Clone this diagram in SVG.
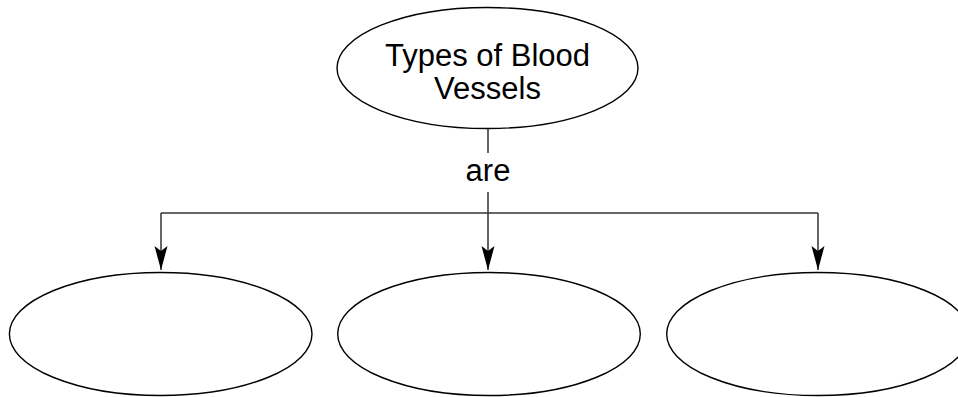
<svg xmlns="http://www.w3.org/2000/svg" width="958" height="397" viewBox="0 0 958 397">
<style>
.node{fill:#fff;stroke:#000;stroke-width:1.4}
.lbl{font-family:"Liberation Sans",Arial,sans-serif;font-size:31px;fill:#000;text-anchor:middle}
.conn{fill:none;stroke:#333;stroke-width:1.5}
</style>
<defs>
<marker id="arr" markerUnits="userSpaceOnUse" markerWidth="16" markerHeight="28" viewBox="-8 -26 16 28" refX="0" refY="0" orient="auto-start-reverse" overflow="visible">
<path d="M0,0 L-6.5,-24 L0,-19 L6.5,-24 Z" fill="#000" transform="rotate(-90)"/>
</marker>
</defs>
<rect width="958" height="397" fill="#fff"/>
<g id="connectors">
<path class="conn" d="M488,129 V153"/>
<path class="conn" d="M488,192 V213"/>
<path class="conn" d="M161,213 H818"/>
<path class="conn" d="M161,213 V270" marker-end="url(#arr)"/>
<path class="conn" d="M488,213 V270" marker-end="url(#arr)"/>
<path class="conn" d="M818,213 V270" marker-end="url(#arr)"/>
<text class="lbl" x="488" y="181">are</text>
</g>
<g id="types">
<ellipse class="node" cx="487.5" cy="68" rx="150.5" ry="60.5"/>
<text class="lbl" x="487.5" y="66">Types of Blood</text>
<text class="lbl" x="487.5" y="98.5">Vessels</text>
</g>
<g id="vessel1">
<ellipse class="node" cx="160.7" cy="334" rx="151.3" ry="61.5"/>
</g>
<g id="vessel2">
<ellipse class="node" cx="489" cy="334" rx="151.3" ry="61.5"/>
</g>
<g id="vessel3">
<ellipse class="node" cx="818" cy="334" rx="151.3" ry="61.5"/>
</g>
</svg>
